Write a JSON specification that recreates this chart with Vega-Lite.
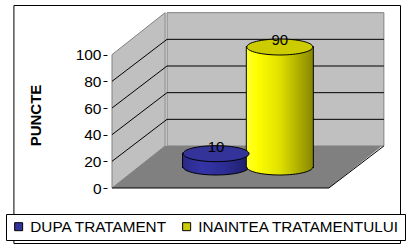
{
  "$schema": "https://vega.github.io/schema/vega-lite/v6.json",
  "width": 298,
  "height": 238,
  "autosize": {"type": "none"},
  "padding": {"left": 107, "top": 5, "right": 8, "bottom": 7},
  "background": "#ffffff",
  "config": {
    "font": "Liberation Sans",
    "view": {"stroke": null}
  },
  "datasets": {
    "puncte": [
      {"serie": "DUPA TRATAMENT", "pos": 1, "puncte": 10},
      {"serie": "INAINTEA TRATAMENTULUI", "pos": 2, "puncte": 90}
    ],
    "grila": [{"v": 20}, {"v": 40}, {"v": 60}, {"v": 80}],
    "perete": [
      {"x": -0.2, "jos": 0, "sus": 100},
      {"x": 0.633, "jos": 31.5, "sus": 131.5}
    ],
    "podea": [
      {"y": 0, "st": -0.2, "dr": 3.2},
      {"y": 31.5, "st": 0.633, "dr": 4.033}
    ]
  },
  "layer": [
    {
      "data": {"name": "perete"},
      "mark": {"type": "area", "fill": "#c0c0c0", "stroke": "#808080", "strokeWidth": 1, "opacity": 1},
      "encoding": {
        "x": {"field": "x", "type": "quantitative", "scale": {"domain": [-0.2, 4.3152], "nice": false, "zero": false}, "axis": null},
        "y": {"field": "jos", "type": "quantitative", "scale": {"domain": [-41.25, 137.25], "nice": false, "zero": false},
              "axis": {"title": "PUNCTE", "values": [0, 20, 40, 60, 80, 100], "domain": false, "grid": false, "zindex": 1,
                       "tickSize": 4, "tickColor": "#000000", "labelPadding": 2, "labelFontSize": 15.5, "labelColor": "#000000",
                       "titleFontSize": 15, "titleFontWeight": "bold", "titleColor": "#000000", "titlePadding": 33,
                       "titleX": -72, "titleY": 110, "titleAngle": -90, "titleAlign": "center", "titleBaseline": "middle"}},
        "y2": {"field": "sus"}
      }
    },
    {
      "data": {"values": [{}]},
      "mark": {"type": "rect", "fill": "transparent", "stroke": "#000000", "strokeWidth": 1,
               "xOffset": 0.5, "x2Offset": 0.5, "yOffset": 0.5, "y2Offset": 0.5},
      "encoding": {
        "x": {"datum": -1.7455, "type": "quantitative"},
        "x2": {"datum": 4.3152},
        "y": {"datum": -41.25, "type": "quantitative"},
        "y2": {"datum": 137.25}
      }
    },
    {
      "data": {"values": [{}]},
      "mark": {"type": "rect", "fill": "#c0c0c0", "stroke": "#808080", "strokeWidth": 1,
               "xOffset": 55, "x2Offset": 55, "yOffset": -42, "y2Offset": -42},
      "encoding": {
        "x": {"datum": -0.2, "type": "quantitative"},
        "x2": {"datum": 3.2},
        "y": {"datum": 0, "type": "quantitative"},
        "y2": {"datum": 100}
      }
    },
    {
      "data": {"name": "podea"},
      "mark": {"type": "area", "orient": "horizontal", "fill": "#808080", "opacity": 1},
      "encoding": {
        "y": {"field": "y", "type": "quantitative"},
        "x": {"field": "st", "type": "quantitative"},
        "x2": {"field": "dr"}
      }
    },
    {
      "data": {"name": "grila"},
      "mark": {"type": "rule", "color": "#000000", "strokeWidth": 1, "xOffset": 55, "x2Offset": 55, "yOffset": -42},
      "encoding": {
        "x": {"datum": -0.2, "type": "quantitative"},
        "x2": {"datum": 3.2},
        "y": {"field": "v", "type": "quantitative"}
      }
    },
    {
      "data": {"name": "grila"},
      "mark": {"type": "rule", "color": "#000000", "strokeWidth": 1, "x2Offset": 55, "y2Offset": -42},
      "encoding": {
        "x": {"datum": -0.2, "type": "quantitative"},
        "x2": {"datum": -0.2},
        "y": {"field": "v", "type": "quantitative"},
        "y2": {"field": "v"}
      }
    },
    {
      "data": {"values": [{}]},
      "mark": {"type": "rule", "color": "#000000", "strokeWidth": 1},
      "encoding": {
        "x": {"datum": -0.2, "type": "quantitative"},
        "x2": {"datum": 3.2},
        "y": {"datum": 0, "type": "quantitative"}
      }
    },
    {
      "data": {"values": [{}]},
      "mark": {"type": "rule", "color": "#000000", "strokeWidth": 1, "x2Offset": 55, "y2Offset": -42},
      "encoding": {
        "x": {"datum": 3.2, "type": "quantitative"},
        "x2": {"datum": 3.2},
        "y": {"datum": 0, "type": "quantitative"},
        "y2": {"datum": 0}
      }
    },
    {
      "data": {"name": "puncte"},
      "transform": [{"filter": "datum.serie === 'DUPA TRATAMENT'"}],
      "layer": [
        {
          "mark": {"type": "bar", "size": 66, "opacity": 1, "fill": "#000000", "stroke": "#000000", "strokeWidth": 2,
                   "xOffset": 27.5, "yOffset": -21, "y2Offset": -21},
          "encoding": {
            "x": {"field": "pos", "type": "quantitative"},
            "y": {"field": "puncte", "type": "quantitative"},
            "y2": {"datum": 0}
          }
        },
        {
          "mark": {"type": "point", "filled": true, "opacity": 1, "size": 4356,
                   "shape": "M-1,0A1,0.2424,0,1,0,1,0A1,0.2424,0,1,0,-1,0Z",
                   "fill": {"gradient": "linear", "x1": 0, "y1": 0, "x2": 1, "y2": 0,
                            "stops": [{"offset": 0, "color": "#2a2a88"}, {"offset": 0.3, "color": "#3434a8"}, {"offset": 0.65, "color": "#2c2c92"}, {"offset": 1, "color": "#1e1e68"}]},
                   "stroke": "#000000", "strokeWidth": 1, "xOffset": 27.5, "yOffset": -21},
          "encoding": {
            "x": {"field": "pos", "type": "quantitative"},
            "y": {"datum": 0, "type": "quantitative"}
          }
        },
        {
          "mark": {"type": "bar", "size": 66, "opacity": 1,
                   "fill": {"gradient": "linear", "x1": 0, "y1": 0, "x2": 1, "y2": 0,
                            "stops": [{"offset": 0, "color": "#2a2a88"}, {"offset": 0.3, "color": "#3434a8"}, {"offset": 0.65, "color": "#2c2c92"}, {"offset": 1, "color": "#1e1e68"}]},
                   "xOffset": 27.5, "yOffset": -21, "y2Offset": -21},
          "encoding": {
            "x": {"field": "pos", "type": "quantitative"},
            "y": {"field": "puncte", "type": "quantitative"},
            "y2": {"datum": 0}
          }
        }
      ]
    },
    {
      "data": {"name": "puncte"},
      "transform": [{"filter": "datum.serie === 'INAINTEA TRATAMENTULUI'"}],
      "layer": [
        {
          "mark": {"type": "bar", "size": 66, "opacity": 1, "fill": "#000000", "stroke": "#000000", "strokeWidth": 2,
                   "xOffset": 27.5, "yOffset": -21, "y2Offset": -21},
          "encoding": {
            "x": {"field": "pos", "type": "quantitative"},
            "y": {"field": "puncte", "type": "quantitative"},
            "y2": {"datum": 0}
          }
        },
        {
          "mark": {"type": "point", "filled": true, "opacity": 1, "size": 4356,
                   "shape": "M-1,0A1,0.2424,0,1,0,1,0A1,0.2424,0,1,0,-1,0Z",
                   "fill": {"gradient": "linear", "x1": 0, "y1": 0, "x2": 1, "y2": 0,
                            "stops": [{"offset": 0, "color": "#ffff30"}, {"offset": 0.15, "color": "#ffff00"}, {"offset": 0.5, "color": "#e0e000"}, {"offset": 1, "color": "#888800"}]},
                   "stroke": "#000000", "strokeWidth": 1, "xOffset": 27.5, "yOffset": -21},
          "encoding": {
            "x": {"field": "pos", "type": "quantitative"},
            "y": {"datum": 0, "type": "quantitative"}
          }
        },
        {
          "mark": {"type": "bar", "size": 66, "opacity": 1,
                   "fill": {"gradient": "linear", "x1": 0, "y1": 0, "x2": 1, "y2": 0,
                            "stops": [{"offset": 0, "color": "#ffff30"}, {"offset": 0.15, "color": "#ffff00"}, {"offset": 0.5, "color": "#e0e000"}, {"offset": 1, "color": "#888800"}]},
                   "xOffset": 27.5, "yOffset": -21, "y2Offset": -21},
          "encoding": {
            "x": {"field": "pos", "type": "quantitative"},
            "y": {"field": "puncte", "type": "quantitative"},
            "y2": {"datum": 0}
          }
        }
      ]
    },
    {
      "data": {"name": "puncte"},
      "mark": {"type": "point", "filled": true, "opacity": 1, "size": 4356,
               "shape": "M-1,0A1,0.2424,0,1,0,1,0A1,0.2424,0,1,0,-1,0Z",
               "stroke": "#000000", "strokeWidth": 1, "xOffset": 27.5, "yOffset": -21},
      "encoding": {
        "x": {"field": "pos", "type": "quantitative"},
        "y": {"field": "puncte", "type": "quantitative"},
        "fill": {"field": "serie", "type": "nominal",
                 "scale": {"domain": ["DUPA TRATAMENT", "INAINTEA TRATAMENTULUI"], "range": ["#333399", "#cccc00"]},
                 "legend": {"title": null, "orient": "none", "legendX": -101, "legendY": 209, "direction": "horizontal",
                            "strokeColor": "#000000", "fillColor": "#ffffff", "padding": 5,
                            "symbolType": "square", "symbolSize": 64, "symbolStrokeColor": "#000000", "symbolStrokeWidth": 1,
                            "labelFontSize": 15.3, "labelColor": "#000000", "labelOffset": 4, "columnPadding": 11,
                            "labelLimit": 400,
                            "encode": {"symbols": {"update": {"fill": {"signal": "datum.value === 'DUPA TRATAMENT' ? '#333399' : '#ffff00'"}}}}}}
      }
    },
    {
      "data": {"name": "puncte"},
      "mark": {"type": "text", "fontSize": 15, "color": "#000000", "align": "center", "baseline": "middle",
               "xOffset": 27.5, "yOffset": -28},
      "encoding": {
        "x": {"field": "pos", "type": "quantitative"},
        "y": {"field": "puncte", "type": "quantitative"},
        "text": {"field": "puncte", "type": "quantitative"}
      }
    }
  ]
}
